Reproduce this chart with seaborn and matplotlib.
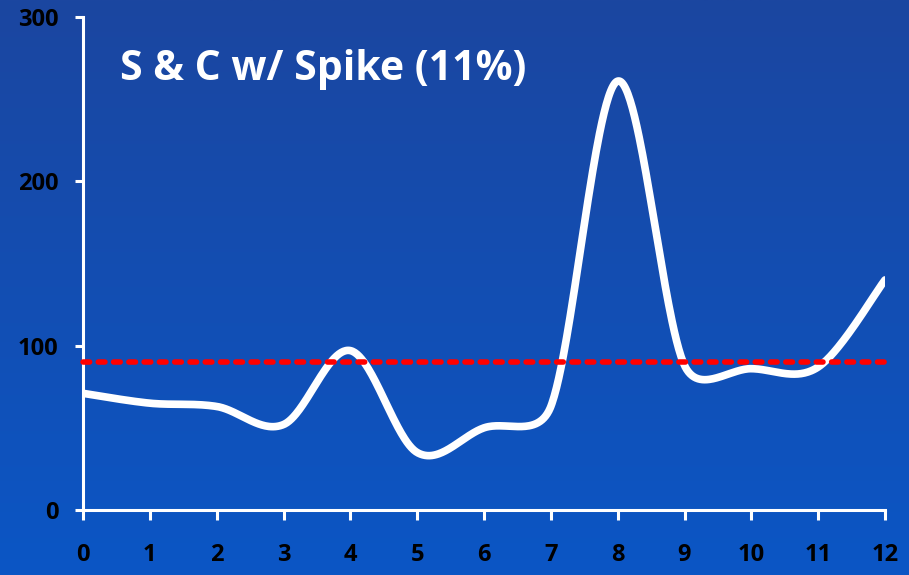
import numpy as np
import pandas as pd
import matplotlib
matplotlib.use("Agg")
import matplotlib.pyplot as plt
import seaborn as sns

# Monthly readings and the reference threshold
periods = [0, 1, 2, 3, 4, 5, 6, 7, 8, 9, 10, 11, 12]
values = [71, 65, 63, 52, 97, 35, 50, 63, 261, 88, 86, 87, 140]
threshold = 90
title_text = "S & C w/ Spike (11%)"
y_ticks = [0, 100, 200, 300]

FIG_W, FIG_H = 909, 575
AX_BOX = (83, 17, 885, 510)  # left, top, right, bottom in pixels


def smooth_curve(xs, ys, sx, sy, steps=60):
    """Bezier smoothing through every point, with control arms capped at
    half the segment length (computed in screen space)."""
    pts = np.column_stack([np.asarray(xs, float) * sx, np.asarray(ys, float) * sy])
    padded = np.vstack([pts[0], pts, pts[-1]])
    t = np.linspace(0, 1, steps)[:, None]
    out = []
    for i in range(len(pts) - 1):
        p0, p1, p2, p3 = padded[i], padded[i + 1], padded[i + 2], padded[i + 3]
        d02 = np.linalg.norm(p2 - p0)
        d12 = np.linalg.norm(p2 - p1)
        d13 = np.linalg.norm(p3 - p1)
        f1 = 1 / 6 if d02 / 6 < d12 / 2 else d12 / (2 * d02)
        f2 = 1 / 6 if d13 / 6 < d12 / 2 else d12 / (2 * d13)
        c1 = p1 + (p2 - p0) * f1
        c2 = p2 - (p3 - p1) * f2
        seg = ((1 - t) ** 3) * p1 + 3 * ((1 - t) ** 2) * t * c1 \
            + 3 * (1 - t) * t ** 2 * c2 + t ** 3 * p2
        out.append(seg if i == 0 else seg[1:])
    res = np.vstack(out)
    return res[:, 0] / sx, res[:, 1] / sy


px_per_x = (AX_BOX[2] - AX_BOX[0]) / 12
px_per_y = (AX_BOX[3] - AX_BOX[1]) / 300
cx, cy = smooth_curve(periods, values, px_per_x, px_per_y)
df = pd.DataFrame({"period": cx, "value": cy})

sns.set_style("white")
plt.rcParams["font.family"] = ["Open Sans", "DejaVu Sans"]

fig = plt.figure(figsize=(FIG_W / 100, FIG_H / 100), dpi=100)

# Vertical blue gradient behind everything
bg = fig.add_axes([0, 0, 1, 1], zorder=-10)
top = np.array([27, 70, 160]) / 255
bottom = np.array([11, 86, 197]) / 255
grad = np.linspace(0, 1, 256)[:, None, None]
img = top * (1 - grad) + bottom * grad
bg.imshow(np.repeat(img, 2, axis=1), aspect="auto", extent=[0, 1, 0, 1])
bg.set_axis_off()

l, tp, r, b = AX_BOX
ax = fig.add_axes([l / FIG_W, 1 - b / FIG_H, (r - l) / FIG_W, (b - tp) / FIG_H])
ax.patch.set_alpha(0)

sns.lineplot(data=df, x="period", y="value", ax=ax, color="white",
             linewidth=5.5, solid_capstyle="round", sort=False, zorder=3)
ax.axhline(threshold, xmin=0, xmax=1.004, color="#ff0000", linewidth=4,
           linestyle=(0, (1.2, 1.55)), dash_capstyle="round", zorder=4,
           clip_on=False)

ax.set_xlim(0, 12)
ax.set_ylim(0, 300)
ax.set_xticks(periods)
ax.set_yticks(y_ticks)
ax.set_xlabel("")
ax.set_ylabel("")

for side in ["top", "right"]:
    ax.spines[side].set_visible(False)
for side in ["left", "bottom"]:
    ax.spines[side].set_color("white")
    ax.spines[side].set_linewidth(2.2)

ax.tick_params(axis="x", bottom=True, direction="out", length=7, width=2.2,
               color="white", pad=17, labelsize=17, labelcolor="black")
ax.tick_params(axis="y", left=True, direction="out", length=5.5, width=2.2,
               color="white", pad=12, labelsize=17, labelcolor="black")
for lbl in ax.get_xticklabels() + ax.get_yticklabels():
    lbl.set_fontweight("bold")

ax.text(0.55, 268, title_text, color="white", fontsize=29.5, fontweight="bold",
        ha="left", va="center", zorder=5)

fig.savefig("out.png", dpi=100)
